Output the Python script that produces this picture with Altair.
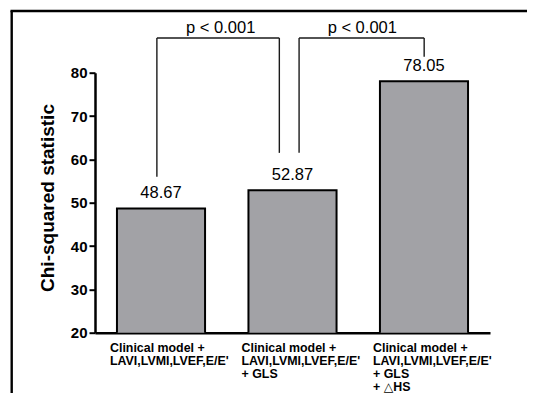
import altair as alt
import pandas as pd

FONT = "Liberation Sans, Arial, DejaVu Sans"

# ---- data ----
categories = [
    "Clinical model +|LAVI,LVMI,LVEF,E/E'",
    "Clinical model +|LAVI,LVMI,LVEF,E/E'|+ GLS",
    "Clinical model +|LAVI,LVMI,LVEF,E/E'|+ GLS|+ \u25b3HS",
]
chi_values = [48.67, 52.87, 78.05]
value_labels = ["48.67", "52.87", "78.05"]

# comparison brackets (x in category-slot units 0..3, y in chi-squared units)
bracket_left_x = [0.47, 1.55]
bracket_right_x = [1.40, 2.50]
bracket_top = [88.0, 88.0]
bracket_left_bottom = [56.0, 61.5]
bracket_right_bottom = [61.5, 83.7]
p_texts = ["p < 0.001", "p < 0.001"]
p_text_x = [0.955, 2.03]
p_text_y = [89.1, 89.1]

y_ticks = [20, 30, 40, 50, 60, 70, 80]

# ---- tables ----
bars_df = pd.DataFrame({"cat": categories, "value": chi_values, "label": value_labels})

seg_rows = []
for i in range(len(bracket_left_x)):
    xl, xr, top = bracket_left_x[i], bracket_right_x[i], bracket_top[i]
    seg_rows.append({"xa": xl, "xb": xr, "ya": top, "yb": top})
    seg_rows.append({"xa": xl, "xb": xl, "ya": top, "yb": bracket_left_bottom[i]})
    seg_rows.append({"xa": xr, "xb": xr, "ya": top, "yb": bracket_right_bottom[i]})
seg_df = pd.DataFrame(seg_rows)
p_df = pd.DataFrame({"x": p_text_x, "y": p_text_y, "t": p_texts})

y_scale = alt.Scale(domain=[20, 80], nice=False, zero=False)
q_x_scale = alt.Scale(domain=[0, 3], nice=False, zero=False)

x_enc = alt.X(
    "cat:N",
    sort=None,
    scale=alt.Scale(paddingInner=0.33, paddingOuter=0.167),
    axis=alt.Axis(
        title=None,
        labelAngle=0,
        labelAlign="left",
        labelOffset=-51,
        labelBaseline="top",
        labelPadding=9,
        labelFont=FONT,
        labelFontSize=12.4,
        labelFontWeight="bold",
        labelColor="black",
        labelLineHeight=12.8,
        labelExpr="split(datum.label, '|')",
        labelOverlap=False,
        labelLimit=0,
        ticks=False,
        tickSize=0,
        domainWidth=2.5,
        domainColor="black",
        grid=False,
    ),
)

y_enc = alt.Y(
    "value:Q",
    scale=y_scale,
    axis=alt.Axis(
        values=y_ticks,
        grid=False,
        labelFont=FONT,
        labelFontSize=15,
        labelFontWeight="bold",
        labelColor="black",
        labelPadding=2,
        tickSize=6,
        tickWidth=2,
        tickColor="black",
        domainWidth=2.5,
        domainColor="black",
        title="Chi-squared statistic",
        titleFont=FONT,
        titleFontSize=19,
        titleFontWeight="bold",
        titleColor="black",
        titleAngle=-90,
        titleAlign="center",
        titleBaseline="alphabetic",
        titleX=-41.7,
        titleY=124.8,
    ),
)

bars = alt.Chart(bars_df).mark_bar(
    clip=True, fill="#a2a2a6", stroke="black", strokeWidth=2
).encode(x=x_enc, y=y_enc)

value_text = alt.Chart(bars_df).mark_text(
    dy=-10, baseline="alphabetic", align="center", font=FONT, fontSize=16.5, color="black"
).encode(x=alt.X("cat:N", sort=None), y=alt.Y("value:Q", scale=y_scale), text="label:N")

bar_layer = alt.layer(bars, value_text)

brackets = alt.Chart(seg_df).mark_rule(color="#1a1a1a", strokeWidth=1.4).encode(
    x=alt.X("xa:Q", scale=q_x_scale, axis=None),
    x2="xb:Q",
    y=alt.Y("ya:Q", scale=y_scale),
    y2="yb:Q",
)

p_labels = alt.Chart(p_df).mark_text(
    baseline="alphabetic", align="center", font=FONT, fontSize=16.5, color="black"
).encode(
    x=alt.X("x:Q", scale=q_x_scale, axis=None),
    y=alt.Y("y:Q", scale=y_scale),
    text="t:N",
)

annot_layer = alt.layer(brackets, p_labels)

frame_df = pd.DataFrame({"d": [0]})
frame_left = alt.Chart(frame_df).mark_rule(color="black", strokeWidth=2.4).encode(
    x=alt.value(-83.3), y=alt.value(-62.0), y2=alt.value(330)
)
frame_top = alt.Chart(frame_df).mark_rule(color="black", strokeWidth=2.4).encode(
    x=alt.value(-84.5), x2=alt.value(440), y=alt.value(-61.7)
)

chart = (
    alt.layer(bar_layer, annot_layer, frame_left, frame_top)
    .resolve_scale(x="independent")
    .properties(
        width=395,
        height=260,
        autosize=alt.AutoSizeParams(type="none"),
        padding={"left": 87, "top": 64.7, "right": 37, "bottom": 60.3},
        background="white",
    )
    .configure_view(stroke=None)
)

chart.save("out.html", embed_options={"renderer": "svg", "actions": False})
